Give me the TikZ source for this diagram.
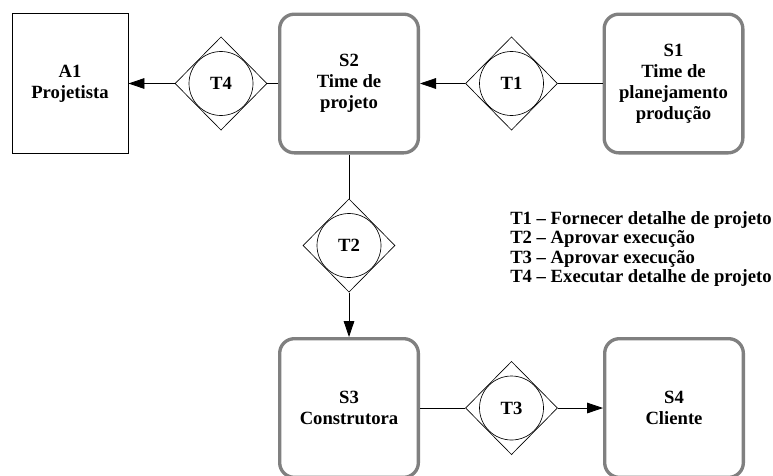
\documentclass[tikz,border=0pt]{standalone}
\usepackage{fontspec}
\setmainfont{Liberation Serif}
\usepackage{tikz}
\usetikzlibrary{arrows.meta}
\usetikzlibrary{shapes}
\definecolor{boxgray}{gray}{0.5}

\begin{document}
\begin{tikzpicture}[
			x=0.75pt, y=-0.75pt,
			font=\bfseries\fontsize{14}{15.75}\selectfont,
			S/.style = {rectangle, draw=boxgray, line width=2.5pt,% actor roles
				rounded corners=11pt, align=center,
				minimum width=104pt, minimum height=104pt},
			A/.style = {rectangle, draw, line width=0.7pt, align=center,
				minimum width=87pt, minimum height=105pt},
			D/.style = {diamond, draw, line width=0.5pt, inner sep=0pt,
				minimum width=69pt, minimum height=70pt},
			C/.style = {circle, draw, line width=0.5pt, inner sep=0pt,
				minimum size=48pt},
			L/.style = {line width=0.6pt},
			R/.style = {L, -{Triangle[length=12pt, width=8pt]}},
			]
			\useasboundingbox (0,0) rectangle (773,475);
			\clip (0,0) rectangle (773,475);
			% actors
			\node[A] (A1) at (70,83.5) {A1\\Projetista};
			\node[S] (S2) at (349,83.5) {S2\\Time de\\projeto};
			\node[S] (S1) at (673.5,83.5) {S1\\Time de\\planejamento\\produção};
			\node[S] (S3) at (349,408) {S3\\Construtora};
			\node[S] (S4) at (674,408) {S4\\Cliente};
			% transactions
			\foreach \t/\p in {T4/{(221,83.5)},T1/{(511.5,83.5)},T2/{(349,245.5)},T3/{(511.5,408)}}{
				\node[D] (\t d) at \p {};
				\node[C] (\t) at \p {\t};
			}
			\draw[R] (T4d.west) -- (A1.east);
			\draw[L] (S2.west) -- (T4d.east);
			\draw[L] (S1.west) -- (T1d.east);
			\draw[R] (T1d.west) -- (S2.east);
			\draw[L] (S2.south) -- (T2d.north);
			\draw[R] (T2d.south) -- (S3.north);
			\draw[L] (S3.east) -- (T3d.west);
			\draw[R] (T3d.east) -- (S4.west);
			% legend
			\node[anchor=north west, inner sep=0pt, align=left,
				font=\bfseries\fontsize{14}{14.6}\selectfont] (leg) at (510,211)
				{T1 -- Fornecer detalhe de projeto\\
				T2 -- Aprovar execução\\
				T3 -- Aprovar execução\\
				T4 -- Executar detalhe de projeto};
		\end{tikzpicture}
\end{document}
